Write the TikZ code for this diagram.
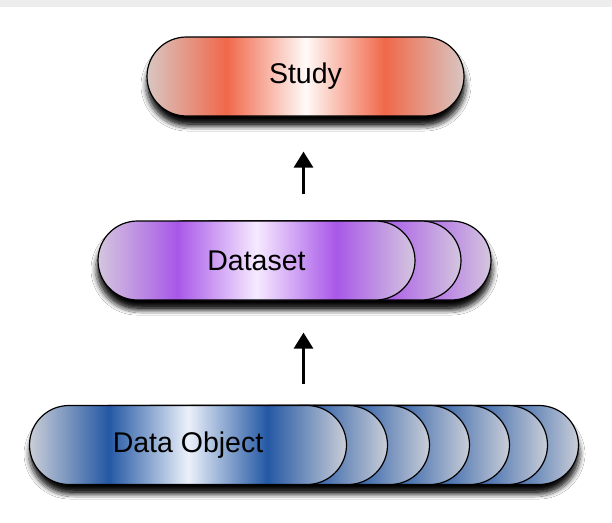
\documentclass[tikz,border=0pt]{standalone}
\usepackage{fontspec}
\setmainfont{Liberation Sans}
\usetikzlibrary{shapes.misc,arrows.meta,shadows.blur}

\definecolor{studyedge}{RGB}{216,198,194}
\definecolor{studystrong}{RGB}{240,104,74}
\definecolor{studycenter}{RGB}{255,250,248}
\definecolor{setedge}{RGB}{212,198,222}
\definecolor{setstrong}{RGB}{168,88,232}
\definecolor{setcenter}{RGB}{246,234,255}
\definecolor{objedge}{RGB}{202,206,216}
\definecolor{objstrong}{RGB}{36,88,164}
\definecolor{objcenter}{RGB}{236,241,250}

% horizontal bands: pale ends, strong colour at quarter points, light centre
\pgfdeclarehorizontalshading{studyshade}{100bp}{color(0bp)=(studyedge); color(25bp)=(studyedge);
  color(37.5bp)=(studystrong); color(50bp)=(studycenter); color(62.5bp)=(studystrong);
  color(75bp)=(studyedge); color(100bp)=(studyedge)}
\pgfdeclarehorizontalshading{setshade}{100bp}{color(0bp)=(setedge); color(25bp)=(setedge);
  color(37.5bp)=(setstrong); color(50bp)=(setcenter); color(62.5bp)=(setstrong);
  color(75bp)=(setedge); color(100bp)=(setedge)}
\pgfdeclarehorizontalshading{objshade}{100bp}{color(0bp)=(objedge); color(25bp)=(objedge);
  color(37.5bp)=(objstrong); color(50bp)=(objcenter); color(62.5bp)=(objstrong);
  color(75bp)=(objedge); color(100bp)=(objedge)}

\tikzset{
  pill/.style={rounded rectangle, draw=black, line width=1.2pt,
    minimum width=317pt, minimum height=79pt, inner sep=0pt,
    font=\fontsize{28.5}{32}\selectfont},
  studypill/.style={pill, shading=studyshade},
  setpill/.style={pill, shading=setshade},
  objpill/.style={pill, shading=objshade},
  groupshadow/.style={rounded corners=39pt,
    blur shadow={shadow xshift=0pt, shadow yshift=-9pt, shadow blur radius=7pt,
      shadow blur steps=14, shadow opacity=100}},
  uparrow/.style={draw=black, line width=3pt,
    -{Triangle[width=19pt,length=16pt,fill=black]}}
}

\begin{document}
\begin{tikzpicture}[x=1pt,y=-1pt]
  \useasboundingbox (0,0) rectangle (612,522);
  \fill[white] (0,0) rectangle (612,522);
  \fill[black!7] (0,0) rectangle (612,7);

  % soft shadows under each level (two passes for a darker core)
  \begin{scope}
    \path[groupshadow] (148,38) rectangle (464,115);
    \path[groupshadow] (98,222) rectangle (491,299);
    \path[groupshadow] (31,407) rectangle (578,483);
    \path[groupshadow] (152,40) rectangle (460,113);
    \path[groupshadow] (102,224) rectangle (487,297);
    \path[groupshadow] (35,409) rectangle (574,481);
  \end{scope}

  % top level
  \node[studypill] (study) at (305.5,76.5) {Study};

  % middle level: stacked datasets, back to front
  \node[setpill] (set2) at (332.5,260.5) {};
  \node[setpill] (set1) at (302.5,260.5) {};
  \node[setpill] (dataset) at (256.5,260.5) {\raisebox{-3pt}{Dataset}};

  % bottom level: stacked data objects, back to front
  \node[objpill] (obj6) at (420,445) {};
  \node[objpill] (obj5) at (389,445) {};
  \node[objpill] (obj4) at (351,445) {};
  \node[objpill] (obj3) at (311,445) {};
  \node[objpill] (obj2) at (271,445) {};
  \node[objpill] (obj1) at (229,445) {};
  \node[objpill] (dataobject) at (188,445) {Data Object};

  % links between the levels
  \draw[uparrow, shorten <=26pt, shorten >=35pt]
    ([xshift=-2pt]study.south |- dataset.north) -- ([xshift=-2pt]study.south);
  \draw[uparrow, shorten <=21pt, shorten >=32pt]
    ([xshift=-2pt]study.south |- dataobject.north) -- ([xshift=-2pt]study.south |- dataset.south);
\end{tikzpicture}
\end{document}
